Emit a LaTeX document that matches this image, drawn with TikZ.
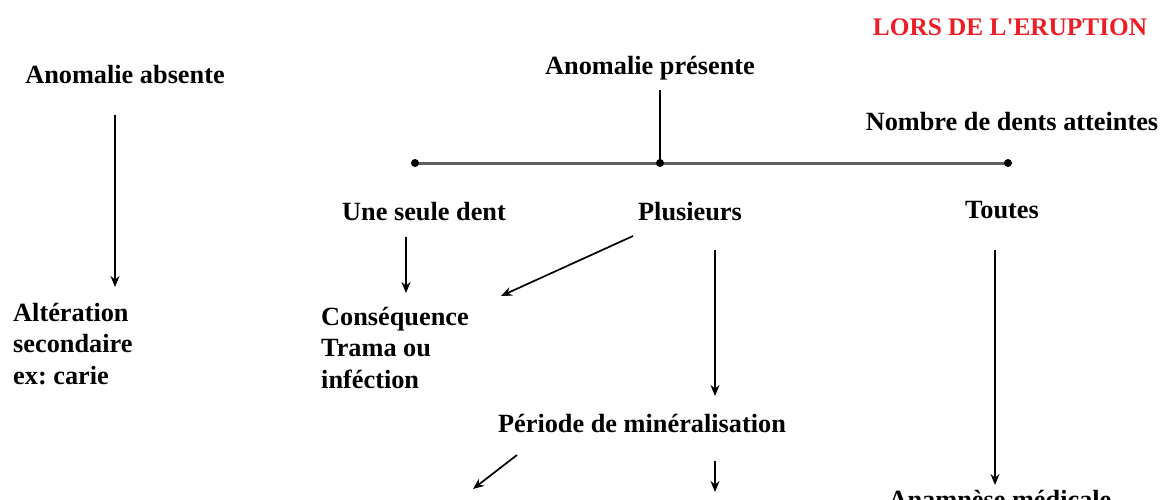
\documentclass[tikz,border=0pt]{standalone}
\usepackage{fontspec}
\setmainfont{Liberation Serif}
\usetikzlibrary{arrows.meta}
\definecolor{titlered}{RGB}{235,30,38}
\frenchspacing
\begin{document}
\begin{tikzpicture}[x=1pt,y=-1pt,
  lbl/.style={font=\bfseries\fontsize{26.3}{31.5}\selectfont, inner sep=0pt, anchor=base},
  mlbl/.style={lbl, align=left, anchor=north west},
  arr/.style={-{Stealth[length=11pt,width=9pt]}, line width=1.7pt},
  dotc/.style={circle, fill=black, inner sep=0pt, minimum size=8pt}]
\useasboundingbox (0,0) rectangle (1169,500);
\clip (0,0) rectangle (1169,500);
\fill[white] (0,0) rectangle (1169,500);

\node[lbl, text=titlered, font=\bfseries\fontsize{25.3}{30}\selectfont] (title) at (1010,36) {LORS DE L\textquotesingle ERUPTION};
\node[lbl] (absente) at (125,84) {Anomalie absente};
\node[lbl] (presente) at (650,75) {Anomalie présente};
\node[lbl] (nombre) at (1012,131) {Nombre de dents atteintes};
\node[lbl] (une) at (424,220) {Une seule dent};
\node[lbl] (plus) at (690,220) {Plusieurs};
\node[lbl] (toutes) at (1002,218) {Toutes};
\node[mlbl] (alter) at (13,303) {Altération\\secondaire\\ex: carie};
\node[mlbl] (conseq) at (321,307) {Conséquence\\Trama ou\\inféction};
\node[lbl] (periode) at (642,432) {Période de minéralisation};
\node[lbl] (anam) at (1000,508) {Anamnèse médicale};

\coordinate (vtop) at (660,90);
\coordinate (dlc) at (415,163);
\coordinate (dmc) at (660,163);
\coordinate (drc) at (1008,163);
\draw[gray!75!black, line width=3pt] (dlc) -- (drc);
\draw[line width=2pt] (vtop) -- (dmc);
\node[dotc] (dl) at (dlc) {};
\node[dotc] (dm) at (dmc) {};
\node[dotc] (dr) at (drc) {};

\coordinate (a1s) at (115,115); \coordinate (a1e) at (115,287);
\draw[arr] (a1s) -- (a1e);
\coordinate (a2s) at (406,237); \coordinate (a2e) at (406,293);
\draw[arr] (a2s) -- (a2e);
\coordinate (a3s) at (633,236); \coordinate (a3e) at (501,296);
\draw[arr] (a3s) -- (a3e);
\coordinate (a4s) at (715,250); \coordinate (a4e) at (715,396);
\draw[arr] (a4s) -- (a4e);
\coordinate (a5s) at (995,250); \coordinate (a5e) at (995,485);
\draw[arr] (a5s) -- (a5e);
\coordinate (a6s) at (517,455); \coordinate (a6e) at (473,489);
\draw[arr] (a6s) -- (a6e);
\coordinate (a7s) at (715,461); \coordinate (a7e) at (715,492);
\draw[arr] (a7s) -- (a7e);
\end{tikzpicture}
\end{document}
